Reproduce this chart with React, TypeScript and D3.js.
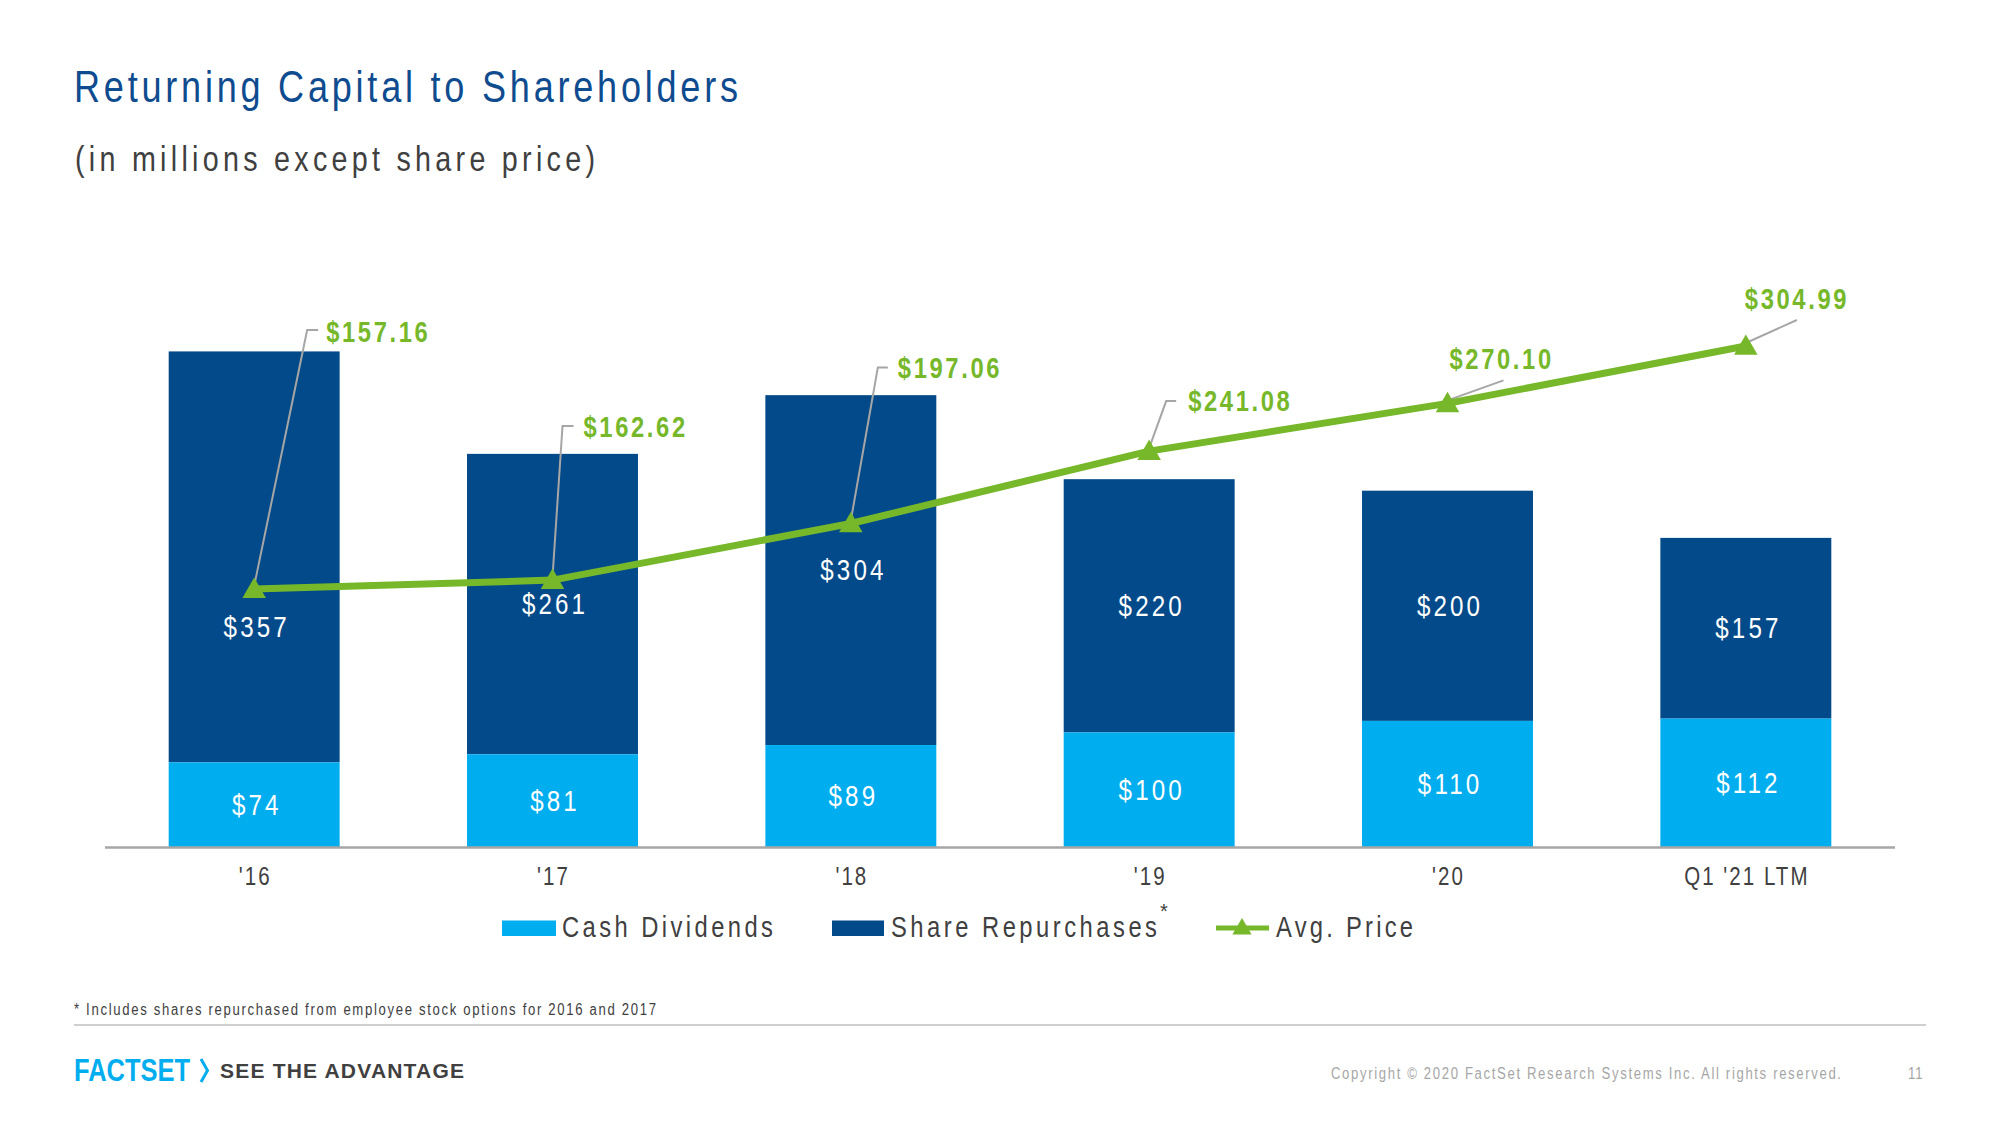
import React from "react";
import * as d3 from "d3";

// ---- data ----
const categories = ["'16", "'17", "'18", "'19", "'20", "Q1 '21 LTM"];
const cashDividends = [74, 81, 89, 100, 110, 112];
const shareRepurchases = [357, 261, 304, 220, 200, 157];
const avgPrice = [157.16, 162.62, 197.06, 241.08, 270.1, 304.99];

// ---- layout constants (label placement relative to marker) ----
const priceLabelOffset = [
  { dx: 72, dy: -247 },
  { dx: 31, dy: -143 },
  { dx: 47, dy: -145 },
  { dx: 39, dy: -40 },
  { dx: 2, dy: -34 },
  { dx: -1, dy: -37 },
];
const leaderPoints = [
  [[53, -259], [64, -259]],
  [[10, -154], [21, -154]],
  [[27, -156], [37, -156]],
  [[17, -50], [27, -50]],
  [[56, -23]],
  [[51, -26]],
];
const repurchaseLabelShift = [70, 0, 0, 0, 0, 0];

const W = 2000;
const H = 1125;
const FONT = "'Liberation Sans', Arial, sans-serif";
const NARROW = 0.82;
const DARK = "#034A8A";
const LIGHT = "#00ADEE";
const GREEN = "#76B82A";
const GREY_TXT = "#404040";

type NTextProps = {
  x: number;
  y: number;
  size: number;
  fill: string;
  width?: number;
  anchor?: "start" | "middle" | "end";
  spacing?: number;
  weight?: string;
  children: React.ReactNode;
};

// Condensed text (emulates Arial Narrow by horizontal scaling)
function NText({ x, y, size, fill, width, anchor = "start", spacing = 0, weight = "normal", children }: NTextProps) {
  const shift = anchor === "middle" ? (spacing * NARROW) / 2 : 0;
  return (
    <text
      transform={`translate(${x + shift},${y}) scale(${NARROW},1)`}
      fontSize={size}
      fill={fill}
      fontWeight={weight}
      textAnchor={anchor}
      letterSpacing={width ? undefined : spacing}
      textLength={width ? width / NARROW : undefined}
      lengthAdjust={width ? "spacing" : undefined}
    >
      {children}
    </text>
  );
}

export default function App() {
  const x = d3
    .scaleBand<string>()
    .domain(categories)
    .range([105, 1895])
    .paddingInner(0.427)
    .paddingOuter(0.2135);
  const yBar = d3.scaleLinear().domain([0, 500]).range([847.5, 272]);
  const yPrice = d3.scaleLinear().domain([0, 350]).range([847.5, 272]);
  const cx = (c: string) => (x(c) as number) + x.bandwidth() / 2;

  const line = d3
    .line<number>()
    .x((_, i) => cx(categories[i]))
    .y((d) => yPrice(d));
  const tri = d3.symbol(d3.symbolTriangle, 240)() as string;
  const triSmall = d3.symbol(d3.symbolTriangle, 160)() as string;

  return (
    <div style={{ position: "absolute", left: 0, top: 0 }}>
      <svg width={W} height={H} style={{ display: "block", background: "#fff" }} fontFamily={FONT}>
        {/* title */}
        <NText x={74} y={102} size={44} fill="#0F4C8F" width={664}>
          Returning Capital to Shareholders
        </NText>
        <NText x={75} y={171} size={35} fill={GREY_TXT} width={520}>
          (in millions except share price)
        </NText>

        {/* bars */}
        {categories.map((c, i) => {
          const x0 = x(c) as number;
          const bw = x.bandwidth();
          const d0 = yBar(0);
          const d1 = yBar(cashDividends[i]);
          const r1 = yBar(cashDividends[i] + shareRepurchases[i]);
          return (
            <g key={c}>
              <rect x={x0} y={r1} width={bw} height={d1 - r1} fill={DARK} />
              <rect x={x0} y={d1} width={bw} height={d0 - d1} fill={LIGHT} />
              <NText
                x={cx(c) + 1}
                y={(r1 + d1) / 2 + repurchaseLabelShift[i] + 10}
                size={29.5}
                fill="#fff"
                anchor="middle"
                spacing={3.8}
              >
                {"$" + shareRepurchases[i]}
              </NText>
              <NText x={cx(c) + 1} y={(d1 + d0) / 2 + 10} size={29.5} fill="#fff" anchor="middle" spacing={3.8}>
                {"$" + cashDividends[i]}
              </NText>
            </g>
          );
        })}

        {/* axis */}
        <line x1={105} x2={1895} y1={yBar(0)} y2={yBar(0)} stroke="#A6A6A6" strokeWidth={2.5} />
        {categories.map((c) => (
          <NText key={c} x={cx(c)} y={885} size={25} fill={GREY_TXT} anchor="middle" spacing={2.5}>
            {c}
          </NText>
        ))}

        {/* leader lines */}
        {avgPrice.map((p, i) => {
          const mx = cx(categories[i]);
          const my = yPrice(p) - 3;
          const pts = [[mx, my], ...leaderPoints[i].map(([dx, dy]) => [mx + dx, yPrice(p) + dy])];
          return (
            <polyline
              key={"l" + i}
              points={pts.map((q) => q.join(",")).join(" ")}
              fill="none"
              stroke="#A6A6A6"
              strokeWidth={2}
            />
          );
        })}

        {/* price line */}
        <path d={line(avgPrice) as string} fill="none" stroke={GREEN} strokeWidth={7} strokeLinejoin="round" />
        {avgPrice.map((p, i) => (
          <path key={"m" + i} d={tri} transform={`translate(${cx(categories[i])},${yPrice(p) + 2})`} fill={GREEN} />
        ))}
        {avgPrice.map((p, i) => (
          <NText
            key={"t" + i}
            x={cx(categories[i]) + priceLabelOffset[i].dx}
            y={yPrice(p) + priceLabelOffset[i].dy}
            size={29}
            weight="bold"
            fill={GREEN}
            spacing={3.2}
          >
            {"$" + p.toFixed(2)}
          </NText>
        ))}

        {/* legend */}
        <rect x={502} y={920.5} width={54} height={15.5} fill={LIGHT} />
        <NText x={562} y={937} size={29} fill={GREY_TXT} width={211}>
          Cash Dividends
        </NText>
        <rect x={832} y={920.5} width={52} height={15.5} fill={DARK} />
        <NText x={891} y={937} size={29} fill={GREY_TXT} width={266}>
          Share Repurchases
        </NText>
        <text x={1160} y={918} fontSize={20} fill={GREY_TXT}>
          *
        </text>
        <line x1={1216} x2={1269} y1={928} y2={928} stroke={GREEN} strokeWidth={5} />
        <path d={triSmall} transform="translate(1242,929)" fill={GREEN} />
        <NText x={1276} y={937} size={29} fill={GREY_TXT} width={137}>
          Avg. Price
        </NText>

        {/* footnote */}
        <NText x={74} y={1015} size={16} fill={GREY_TXT} width={582}>
          * Includes shares repurchased from employee stock options for 2016 and 2017
        </NText>
        <line x1={74} x2={1926} y1={1025} y2={1025} stroke="#BFBFBF" strokeWidth={1.5} />

        {/* footer */}
        <text
          x={74}
          y={1081}
          fontSize={31}
          fontWeight="bold"
          fill={LIGHT}
          textLength={116}
          lengthAdjust="spacingAndGlyphs"
        >
          FACTSET
        </text>
        <polyline points="201,1059 207.5,1070.5 201,1082" fill="none" stroke={LIGHT} strokeWidth={3} />
        <text x={220} y={1078} fontSize={21} fontWeight="bold" fill={GREY_TXT} textLength={244} lengthAdjust="spacing">
          SEE THE ADVANTAGE
        </text>
        <NText x={1331} y={1079} size={16} fill="#A6A6A6" width={510}>
          Copyright © 2020 FactSet Research Systems Inc. All rights reserved.
        </NText>
        <NText x={1908} y={1079} size={16} fill="#A6A6A6" spacing={1}>
          11
        </NText>
      </svg>
    </div>
  );
}
